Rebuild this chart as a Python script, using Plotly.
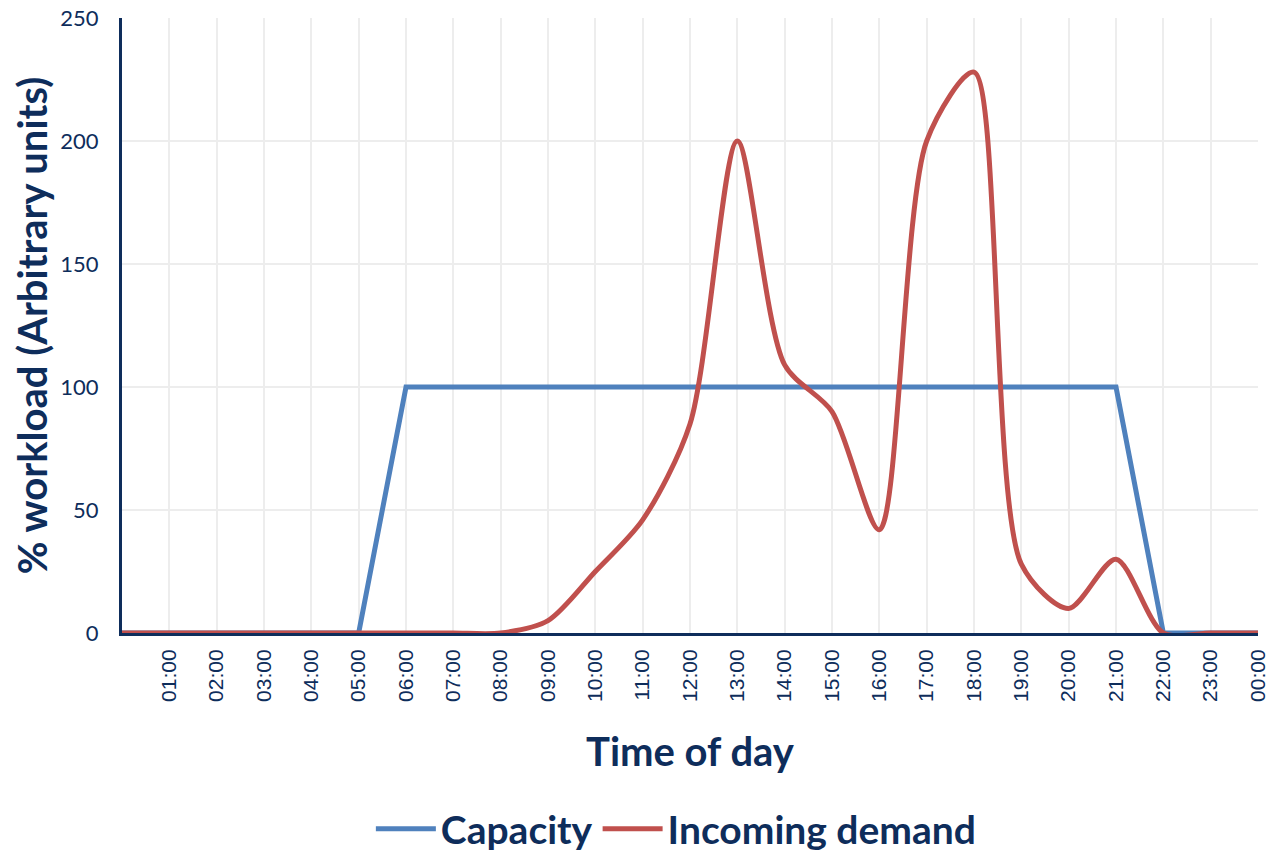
import plotly.graph_objects as go

hours = list(range(0, 25))
tick_labels = ["01:00", "02:00", "03:00", "04:00", "05:00", "06:00", "07:00", "08:00",
               "09:00", "10:00", "11:00", "12:00", "13:00", "14:00", "15:00", "16:00",
               "17:00", "18:00", "19:00", "20:00", "21:00", "22:00", "23:00", "00:00"]
capacity = [0, 0, 0, 0, 0, 0, 100, 100, 100, 100, 100, 100, 100, 100, 100, 100,
            100, 100, 100, 100, 100, 100, 0, 0, 0]
demand = [0, 0, 0, 0, 0, 0, 0, 0, 0, 5, 25, 46, 85, 200, 109, 90,
          42, 200, 228, 28, 10, 30, 0, 0, 0]

navy = "#0E2D5B"
fig = go.Figure()
fig.add_trace(go.Scatter(x=hours, y=capacity, mode="lines", name="Capacity",
                         line=dict(color="#4F81BD", width=5)))
fig.add_trace(go.Scatter(x=hours, y=demand, mode="lines", name="Incoming demand",
                         line=dict(color="#C0504D", width=5, shape="spline", smoothing=0.8)))

fig.update_layout(
    width=1266, height=851,
    margin=dict(l=122, r=8, t=18, b=218),
    plot_bgcolor="white", paper_bgcolor="white",
    font=dict(family="Lato, Open Sans, sans-serif", color=navy),
    showlegend=True,
    legend=dict(orientation="h", x=0.488, xanchor="center",
                yref="container", y=0.026, yanchor="middle",
                font=dict(size=39, color=navy, family="Lato, sans-serif", weight="bold"),
                itemwidth=60),
    xaxis=dict(range=[0, 24], tickmode="array", tickvals=hours[1:], ticktext=tick_labels,
               tickangle=-90, tickfont=dict(size=21, color=navy, family="Liberation Sans, Arial, sans-serif"),
               ticklabeloverflow="allow", ticklabelstandoff=5,
               showgrid=True, gridcolor="#EDEDED", gridwidth=2,
               showline=True, linecolor=navy, linewidth=3, zeroline=False,
               automargin=False,
               ticks="", title=dict(text="Time of day", standoff=38,
                                    font=dict(size=40, color=navy, weight="bold"))),
    yaxis=dict(range=[0, 250], tickvals=[0, 50, 100, 150, 200, 250],
               tickfont=dict(size=22, color=navy),
               ticklabeloverflow="allow",
               showgrid=True, gridcolor="#EDEDED", gridwidth=2,
               showline=True, linecolor=navy, linewidth=3, zeroline=False,
               automargin=False,
               ticks="", ticklabelstandoff=16,
               title=dict(text="% workload (Arbitrary units)", standoff=1,
                          font=dict(size=40, color=navy, weight="bold"))),
)
fig.write_html("out.html", config={"displayModeBar": False},
               post_script="document.body.style.margin='0px';")
